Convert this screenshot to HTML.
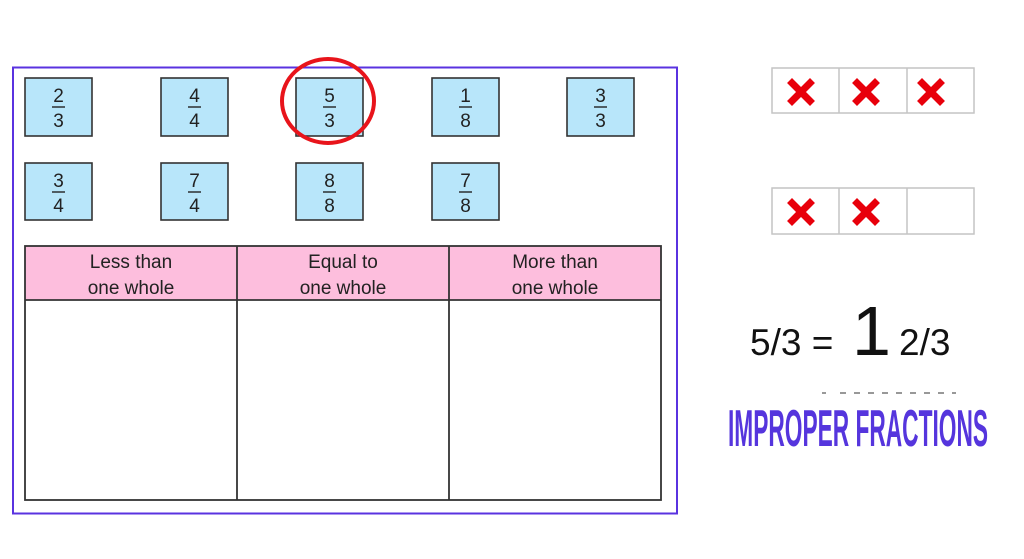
<!DOCTYPE html>
<html><head><meta charset="utf-8"><style>
html,body{margin:0;padding:0;background:#fff;}
svg{display:block;}
</style></head><body>
<svg width="1024" height="559" viewBox="0 0 1024 559" xmlns="http://www.w3.org/2000/svg" font-family="Liberation Sans, DejaVu Sans, sans-serif">
<rect x="13" y="67.5" width="664" height="446" fill="none" stroke="#5a33e0" stroke-width="2"/>
<g stroke="#333" stroke-width="1.6" fill="#b8e6fa">
<rect x="25" y="78" width="67" height="58"/>
<rect x="161" y="78" width="67" height="58"/>
<rect x="296" y="78" width="67" height="58"/>
<rect x="432" y="78" width="67" height="58"/>
<rect x="567" y="78" width="67" height="58"/>
<rect x="25" y="163" width="67" height="57"/>
<rect x="161" y="163" width="67" height="57"/>
<rect x="296" y="163" width="67" height="57"/>
<rect x="432" y="163" width="67" height="57"/>
</g>
<g font-size="19" fill="#222" text-anchor="middle">
<text x="58.5" y="102">2</text><text x="58.5" y="127">3</text>
<text x="194.5" y="102">4</text><text x="194.5" y="127">4</text>
<text x="329.5" y="102">5</text><text x="329.5" y="127">3</text>
<text x="465.5" y="102">1</text><text x="465.5" y="127">8</text>
<text x="600.5" y="102">3</text><text x="600.5" y="127">3</text>
<text x="58.5" y="187">3</text><text x="58.5" y="212">4</text>
<text x="194.5" y="187">7</text><text x="194.5" y="212">4</text>
<text x="329.5" y="187">8</text><text x="329.5" y="212">8</text>
<text x="465.5" y="187">7</text><text x="465.5" y="212">8</text>
</g>
<g stroke="#222" stroke-width="1.4">
<line x1="52" x2="65" y1="107" y2="107"/><line x1="188" x2="201" y1="107" y2="107"/>
<line x1="323" x2="336" y1="107" y2="107"/><line x1="459" x2="472" y1="107" y2="107"/>
<line x1="594" x2="607" y1="107" y2="107"/>
<line x1="52" x2="65" y1="192" y2="192"/><line x1="188" x2="201" y1="192" y2="192"/>
<line x1="323" x2="336" y1="192" y2="192"/><line x1="459" x2="472" y1="192" y2="192"/>
</g>
<ellipse cx="328" cy="101" rx="46" ry="42" fill="none" stroke="#e8141b" stroke-width="4"/>
<rect x="25" y="246" width="636" height="54" fill="#fdbedd"/>
<g stroke="#333" stroke-width="1.8" fill="none">
<rect x="25" y="246" width="636" height="254"/>
<line x1="25" x2="661" y1="300" y2="300"/>
<line x1="237" x2="237" y1="246" y2="500"/>
<line x1="449" x2="449" y1="246" y2="500"/>
</g>
<g font-size="19" fill="#222" text-anchor="middle">
<text x="131" y="268">Less than</text><text x="131" y="294">one whole</text>
<text x="343" y="268">Equal to</text><text x="343" y="294">one whole</text>
<text x="555" y="268">More than</text><text x="555" y="294">one whole</text>
</g>
<g stroke="#c4c4c4" stroke-width="1.5" fill="none">
<rect x="772" y="68" width="202" height="45"/>
<line x1="839" x2="839" y1="68" y2="113"/><line x1="907" x2="907" y1="68" y2="113"/>
<rect x="772" y="188" width="202" height="46"/>
<line x1="839" x2="839" y1="188" y2="234"/><line x1="907" x2="907" y1="188" y2="234"/>
</g>
<g stroke="#e8000b" stroke-width="7" stroke-linecap="square">
<path d="M792 83 L810 101 M810 83 L792 101"/>
<path d="M857 83 L875 101 M875 83 L857 101"/>
<path d="M922 83 L940 101 M940 83 L922 101"/>
<path d="M792 203 L810 221 M810 203 L792 221"/>
<path d="M857 203 L875 221 M875 203 L857 221"/>
</g>
<text x="750" y="355" font-size="37" fill="#111">5/3 =</text>
<text x="852" y="355" font-size="70" fill="#111">1</text>
<text x="899" y="355" font-size="37" fill="#111">2/3</text>
<g transform="translate(728,446) scale(1,2.0)">
<text x="0" y="0" font-size="26" font-weight="bold" fill="#5535dd" textLength="260" lengthAdjust="spacingAndGlyphs">IMPROPER FRACTIONS</text>
</g>
<g stroke="#777" stroke-width="1.5"><line x1="822" x2="826" y1="393" y2="393"/><line x1="840" x2="956" y1="393" y2="393" stroke-dasharray="6 8"/></g>
</svg>
</body></html>
